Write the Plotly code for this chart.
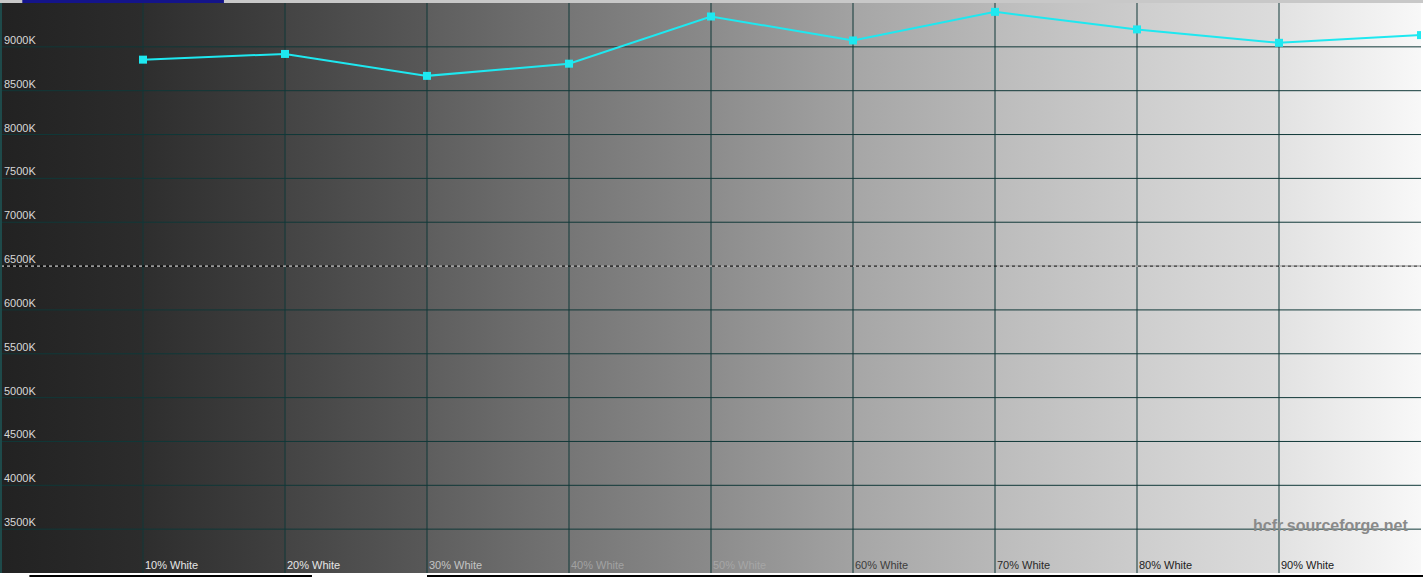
import plotly.graph_objects as go

# Data
levels = [10, 20, 30, 40, 50, 60, 70, 80, 90, 100]
cct_values = [8854, 8919, 8669, 8808, 9346, 9073, 9399, 9199, 9046, 9134]
x_labels = ["10% White", "20% White", "30% White", "40% White", "50% White",
            "60% White", "70% White", "80% White", "90% White"]
x_label_pos = [10, 20, 30, 40, 50, 60, 70, 80, 90]
x_label_colors = ["#e6e6e6", "#e6e6e6", "#c4c4c4", "#a2a2a2", "#a6a6a6",
                  "#3c3c3c", "#2a2a2a", "#222222", "#1a1a1a"]
y_ticks = [3500, 4000, 4500, 5000, 5500, 6000, 6500, 7000, 7500, 8000, 8500, 9000]
y_tick_labels = [f"{v}K" for v in y_ticks]
reference_cct = 6500

# background gradient per column (start, end gray levels)
col_grays = [(0x22, 0x2c), (0x2e, 0x40), (0x44, 0x58), (0x5e, 0x74), (0x76, 0x8a),
             (0x8c, 0xa2), (0xa6, 0xb8), (0xbc, 0xcc), (0xce, 0xdc), (0xe2, 0xf8)]

def g(v):
    return f"rgb({v},{v},{v})"

cscale = []
for i, (a, b) in enumerate(col_grays):
    s = i / 10
    e = (i + 1) / 10
    cscale.append([s if i == 0 else s + 0.0005, g(a)])
    cscale.append([e, g(b)])

xmin, xmax, ymin, ymax = 0, 100, 3000, 9500

fig = go.Figure()

# background
fig.add_trace(go.Scatter(
    x=[xmin, xmax, xmax, xmin, xmin], y=[ymin, ymin, ymax, ymax, ymin],
    mode="none", fill="toself",
    fillgradient=dict(type="horizontal", colorscale=cscale, start=xmin, stop=xmax),
    hoverinfo="skip", showlegend=False))

grid_color = "#103838"
# grid lines as line traces (above background, below data)
gx, gy = [], []
for xv in x_label_pos:
    gx += [xv, xv, None]
    gy += [ymin, ymax, None]
for yv in y_ticks:
    if yv == reference_cct:
        continue
    gx += [xmin, xmax, None]
    gy += [yv, yv, None]
fig.add_trace(go.Scatter(x=gx, y=gy, mode="lines", line=dict(color=grid_color, width=1),
                         hoverinfo="skip", showlegend=False))
# reference line: black underneath, white dashes on top
fig.add_trace(go.Scatter(x=[xmin, xmax], y=[reference_cct, reference_cct], mode="lines",
                         line=dict(color="#000000", width=1), hoverinfo="skip", showlegend=False))
fig.add_trace(go.Scatter(x=[xmin, xmax], y=[reference_cct, reference_cct], mode="lines",
                         line=dict(color="#ffffff", width=1, dash="3px,3px"),
                         hoverinfo="skip", showlegend=False))

fig.add_trace(go.Scatter(
    x=levels, y=cct_values, mode="lines+markers",
    line=dict(color="#1ee8f0", width=2),
    marker=dict(symbol="square", size=8, color="#1ee8f0"),
    showlegend=False, cliponaxis=True))

shapes = []
# left border
shapes.append(dict(type="line", xref="paper", yref="paper", x0=0, x1=0, y0=0, y1=1,
                   line=dict(color="#1e4a4a", width=2)))
# top chrome strip
shapes.append(dict(type="rect", xref="paper", yref="paper", x0=-0.01, x1=1.01, y0=1.0, y1=1.02,
                   fillcolor="#c8c8c8", line=dict(width=0), layer="above"))
shapes.append(dict(type="rect", xref="paper", yref="paper", x0=0.015, x1=0.157, y0=1.0, y1=1.02,
                   fillcolor="#14148a", line=dict(width=0), layer="above"))
# bottom strip
shapes.append(dict(type="rect", xref="paper", yref="paper", x0=-0.01, x1=1.01, y0=-0.02, y1=0.0,
                   fillcolor="#ffffff", line=dict(width=0), layer="above"))
shapes.append(dict(type="rect", xref="paper", yref="paper", x0=0.02, x1=0.219, y0=-0.0075, y1=-0.0035,
                   fillcolor="#000000", line=dict(width=0), layer="above"))
shapes.append(dict(type="rect", xref="paper", yref="paper", x0=0.30, x1=1.005, y0=-0.0075, y1=-0.0035,
                   fillcolor="#000000", line=dict(width=0), layer="above"))

annotations = []
for v, t in zip(y_ticks, y_tick_labels):
    annotations.append(dict(x=0, y=v, xref="paper", yref="y", text=t, showarrow=False,
                            xanchor="left", yanchor="bottom", xshift=1, yshift=-1,
                            font=dict(family="Liberation Sans, Arial", size=11, color="#d8d8d8")))
for xv, t, c in zip(x_label_pos, x_labels, x_label_colors):
    annotations.append(dict(x=xv, y=ymin, xref="x", yref="y", text=t, showarrow=False,
                            xanchor="left", yanchor="bottom", xshift=0, yshift=0,
                            font=dict(family="Liberation Sans, Arial", size=11, color=c)))
annotations.append(dict(x=0.992, y=3500, xref="paper", yref="y", text="<b>hcfr.sourceforge.net</b>",
                        showarrow=False, xanchor="right", yanchor="middle", yshift=4,
                        font=dict(family="Liberation Sans, Arial", size=16, color="#8a8a8a")))

fig.update_layout(
    width=1423, height=577,
    margin=dict(l=1, r=2, t=3, b=4),
    paper_bgcolor="#ffffff", plot_bgcolor="#222222",
    xaxis=dict(range=[xmin, xmax], showgrid=False, zeroline=False, showticklabels=False,
               showline=False, fixedrange=True),
    yaxis=dict(range=[ymin, ymax], showgrid=False, zeroline=False, showticklabels=False,
               showline=False, fixedrange=True),
    shapes=shapes, annotations=annotations, showlegend=False,
)

fig.write_html("out.html", config={"displayModeBar": False},
               post_script="document.body.style.margin='0';document.body.style.overflow='hidden';")
